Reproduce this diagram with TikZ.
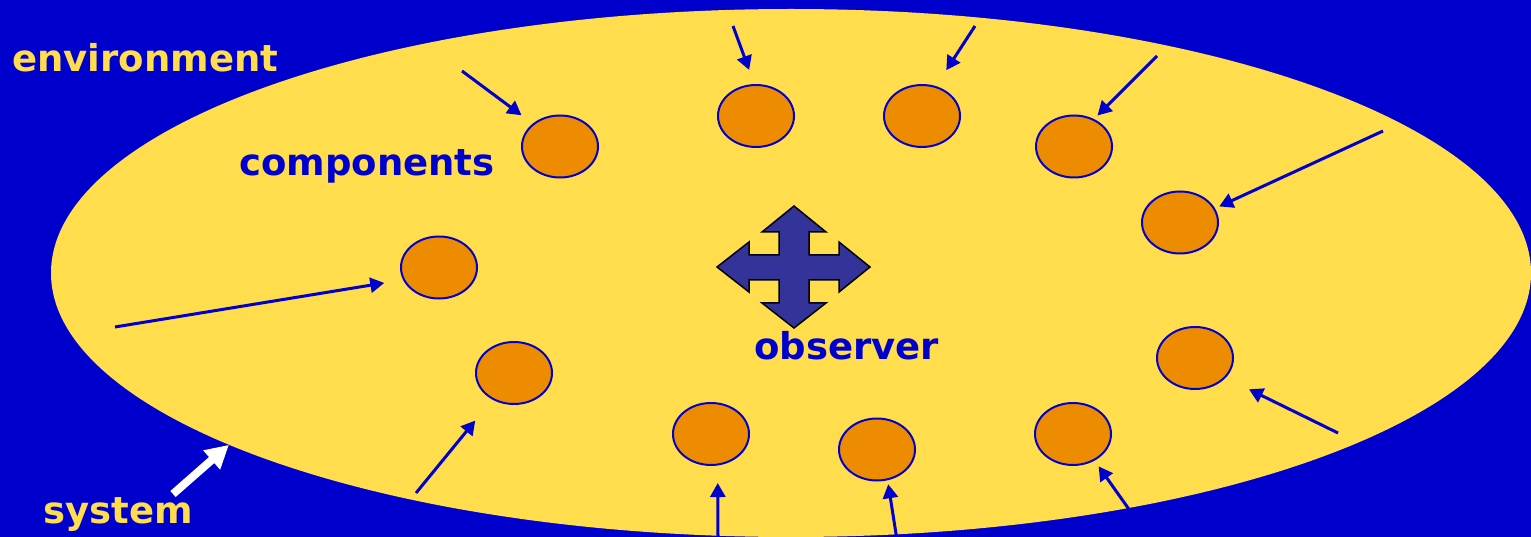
\documentclass[tikz,border=0pt]{standalone}
\usepackage{fontspec}
\setmainfont{DejaVu Sans}
\usetikzlibrary{shapes.geometric,arrows.meta}
\definecolor{bgblue}{HTML}{0000CC}
\definecolor{sysyellow}{HTML}{FFDD4D}
\definecolor{comporange}{HTML}{EE8C00}
\definecolor{crossfill}{HTML}{333399}
\tikzset{
  comp/.style={ellipse, draw=bgblue, line width=2pt, fill=comporange,
    minimum width=76pt, minimum height=62pt, inner sep=0pt},
  arr/.style={draw=bgblue, line width=3pt,
    -{Triangle[length=14pt,width=15pt]}},
  sysarrow/.style={draw=white, line width=8pt,
    -{Triangle[length=23pt,width=24pt]}},
  lbl/.style={font=\fontsize{37}{40}\selectfont\bfseries, inner sep=0pt, anchor=base west},
}
\begin{document}
\begin{tikzpicture}[x=1pt,y=-1pt]
\useasboundingbox (0,0) rectangle (1531,537);
\fill[bgblue] (0,0) rectangle (1531,537);
% system ellipse
\node[ellipse, fill=sysyellow, minimum width=1480pt, minimum height=528pt, inner sep=0pt] (sys) at (791,273) {};
% components
\node[comp] (n1) at (560,146.5) {};
\node[comp] (n2) at (756,116) {};
\node[comp] (n3) at (922,116) {};
\node[comp] (n4) at (1074,146.5) {};
\node[comp] (n5) at (1180,222.5) {};
\node[comp] (n6) at (439,267.5) {};
\node[comp] (n7) at (514,373) {};
\node[comp] (n8) at (711,434) {};
\node[comp] (n9) at (877,449.5) {};
\node[comp] (n10) at (1073,434) {};
\node[comp] (n11) at (1195,358) {};
% arrow tails
\coordinate (c1) at (462,71);
\coordinate (c2) at (733,26);
\coordinate (c3) at (975,26);
\coordinate (c4) at (1157,56);
\coordinate (c5) at (1383,131);
\coordinate (c6) at (115,327);
\coordinate (c7) at (416,493);
\coordinate (c8) at (718,537);
\coordinate (c9) at (897,540);
\coordinate (c10) at (1133,515);
\coordinate (c11) at (1338,433);
\draw[arr, shorten >=14pt] (c1) -- (n1.140.5);
\draw[arr, shorten >=15pt] (c2) -- (n2.93.5);
\draw[arr, shorten >=19pt] (c3) -- (n3.65.6);
\draw[arr, shorten >=5pt] (c4) -- (n4.54.4);
\draw[arr, shorten >=4.6pt] (c5) -- (n5.22.6);
\draw[arr, shorten >=19pt] (c6) -- (n6.199.6);
\draw[arr, shorten >=27pt] (c7) -- (n7.231.4);
\draw[arr, shorten >=17.5pt] (c8) -- (n8.282.9);
\draw[arr, shorten >=4pt] (c9) -- (n9.289.2);
\draw[arr, shorten >=7pt] (c10) -- (n10.309);
\draw[arr, shorten >=26pt] (c11) -- (n11.327);
% observer cross
\draw[fill=crossfill, draw=black, line width=1.5pt, line join=miter]
  (794,206) -- (826,232) -- (809,232) -- (809,255) -- (839,255) -- (839,242)
  -- (870,267) -- (839,292) -- (839,280) -- (809,280) -- (809,303) -- (826,303)
  -- (794,328) -- (762,303) -- (779,303) -- (779,280) -- (749,280) -- (749,292)
  -- (717,267) -- (749,242) -- (749,255) -- (779,255) -- (779,232) -- (762,232) -- cycle;
% labels
\node[lbl, text=sysyellow] (tenv) at (12,72) {environment};
\node[lbl, text=bgblue] (tcomp) at (239,176) {components};
\node[lbl, text=bgblue] (tobs) at (754,359) {observer};
\node[lbl, text=sysyellow] (tsys) at (43,523) {system};
% system arrow
\coordinate (csys) at (173,494);
\draw[sysarrow] (csys) -- (sys.197.5);
\end{tikzpicture}
\end{document}
